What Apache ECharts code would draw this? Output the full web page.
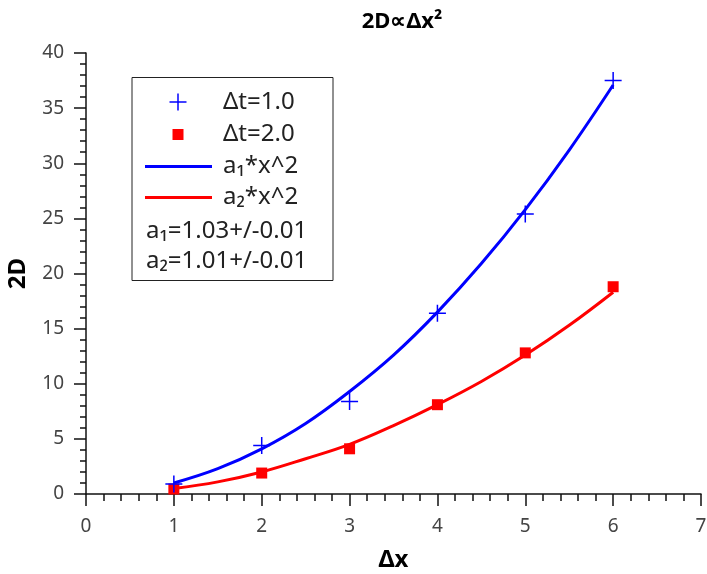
<!DOCTYPE html>
<html>
<head>
<meta charset="utf-8">
<title>2D∝Δx²</title>
<script src="https://cdn.jsdelivr.net/npm/echarts@6/dist/echarts.min.js"></script>
<style>
	html, body { margin: 0; padding: 0; background: #fff; }
	#main { width: 707px; height: 574px; }
</style>
</head>
<body>
<div id="main"></div>
<script>
// measured points
var dx = [1, 2, 3, 4, 5, 6];
var dt1Values = [0.9, 4.4, 8.4, 16.4, 25.4, 37.5];
var dt2Values = [0.45, 1.9, 4.1, 8.1, 12.8, 18.8];

// fitted curves at half steps
var fitX = [1, 1.5, 2, 2.5, 3, 3.5, 4, 4.5, 5, 5.5, 6];
var fit1Values = [1.0, 2.3, 4.1, 6.4, 9.3, 12.6, 16.5, 20.9, 25.8, 31.2, 37.1];
var fit2Values = [0.5, 1.1, 2.0, 3.2, 4.5, 6.2, 8.1, 10.2, 12.6, 15.3, 18.3];

var xTicks = [0, 1, 2, 3, 4, 5, 6, 7];
var yTicks = [0, 5, 10, 15, 20, 25, 30, 35, 40];

var legendNames = ['Δt=1.0', 'Δt=2.0', 'a₁*x^2', 'a₂*x^2'];
var fitNotes = ['a₁=1.03+/-0.01', 'a₂=1.01+/-0.01'];

function pairs(xs, ys) {
	var out = [];
	for (var i = 0; i < xs.length; i++) {
		out.push([xs[i], ys[i]]);
	}
	return out;
}

var FONT = 'Noto Sans';
var BLUE = '#0000ff';
var RED = '#ff0000';
var plusPath = 'path://M0,5L10,5M5,0L5,10';

var legendText = {
	fill: '#222',
	font: '24px "Noto Sans"',
	verticalAlign: 'middle'
};

var option = {
	animation: false,
	backgroundColor: '#fff',
	textStyle: {
		fontFamily: FONT
	},
	title: {
		text: '2D∝Δx²',
		left: 397,
		top: 6,
		textAlign: 'center',
		textStyle: {
			fontFamily: FONT,
			fontSize: 22,
			fontWeight: 'bold',
			color: '#000'
		}
	},
	grid: {
		left: 86,
		right: 6,
		top: 53,
		bottom: 80,
		outerBoundsMode: 'none',
		containLabel: false
	},
	xAxis: {
		type: 'value',
		min: xTicks[0],
		max: xTicks[xTicks.length - 1],
		interval: 1,
		name: 'Δx',
		nameLocation: 'middle',
		nameGap: 54,
		nameTextStyle: {
			fontFamily: FONT,
			fontSize: 24,
			fontWeight: 'bold',
			color: '#000'
		},
		axisLine: {
			onZero: false,
			lineStyle: { color: '#111', width: 1.5 }
		},
		axisTick: {
			length: 12,
			lineStyle: { color: '#111', width: 1.5 }
		},
		minorTick: {
			show: true,
			splitNumber: 5,
			length: 7,
			lineStyle: { color: '#111', width: 1.5 }
		},
		axisLabel: {
			margin: 23,
			fontSize: 19,
			color: '#444'
		},
		splitLine: { show: false }
	},
	yAxis: {
		type: 'value',
		min: yTicks[0],
		max: yTicks[yTicks.length - 1],
		interval: 5,
		name: '2D',
		nameLocation: 'middle',
		nameGap: 56,
		nameTextStyle: {
			fontFamily: FONT,
			fontSize: 24,
			fontWeight: 'bold',
			color: '#000'
		},
		axisLine: {
			show: true,
			onZero: false,
			lineStyle: { color: '#111', width: 1.5 }
		},
		axisTick: {
			show: true,
			length: 12,
			lineStyle: { color: '#111', width: 1.5 }
		},
		minorTick: {
			show: true,
			splitNumber: 5,
			length: 6,
			lineStyle: { color: '#111', width: 1.5 }
		},
		axisLabel: {
			margin: 22,
			fontSize: 19,
			color: '#444'
		},
		splitLine: { show: false }
	},
	series: [
		{
			name: legendNames[2],
			type: 'line',
			data: pairs(fitX, fit1Values),
			smooth: 0.4,
			showSymbol: false,
			lineStyle: { color: BLUE, width: 3 },
			itemStyle: { color: BLUE },
			z: 2
		},
		{
			name: legendNames[3],
			type: 'line',
			data: pairs(fitX, fit2Values),
			smooth: 0.4,
			showSymbol: false,
			lineStyle: { color: RED, width: 3 },
			itemStyle: { color: RED },
			z: 2
		},
		{
			name: legendNames[1],
			type: 'scatter',
			data: pairs(dx, dt2Values),
			symbol: 'rect',
			symbolSize: 11,
			itemStyle: { color: RED, opacity: 1 },
			z: 3
		},
		{
			name: legendNames[0],
			type: 'scatter',
			data: pairs(dx, dt1Values),
			symbol: plusPath,
			symbolSize: 17,
			itemStyle: {
				color: 'rgba(0,0,0,0)',
				borderColor: BLUE,
				borderWidth: 1.5,
				opacity: 1
			},
			z: 4
		}
	],
	graphic: [
		{
			type: 'rect',
			z: 10,
			shape: { x: 132, y: 77.5, width: 201, height: 203 },
			style: { fill: '#fff', stroke: '#222', lineWidth: 1 }
		},
		{
			type: 'line', z: 11,
			shape: { x1: 169.5, y1: 102, x2: 186.5, y2: 102 },
			style: { stroke: BLUE, lineWidth: 1.5 }
		},
		{
			type: 'line', z: 11,
			shape: { x1: 178, y1: 93.5, x2: 178, y2: 110.5 },
			style: { stroke: BLUE, lineWidth: 1.5 }
		},
		{
			type: 'rect', z: 11,
			shape: { x: 172.5, y: 129, width: 11, height: 11 },
			style: { fill: RED }
		},
		{
			type: 'line', z: 11,
			shape: { x1: 145, y1: 166.5, x2: 212, y2: 166.5 },
			style: { stroke: BLUE, lineWidth: 3 }
		},
		{
			type: 'line', z: 11,
			shape: { x1: 145, y1: 197.5, x2: 212, y2: 197.5 },
			style: { stroke: RED, lineWidth: 3 }
		},
		{ type: 'text', z: 11, x: 223, y: 102, style: Object.assign({ text: legendNames[0] }, legendText) },
		{ type: 'text', z: 11, x: 223, y: 134, style: Object.assign({ text: legendNames[1] }, legendText) },
		{ type: 'text', z: 11, x: 223, y: 166, style: Object.assign({ text: legendNames[2] }, legendText) },
		{ type: 'text', z: 11, x: 223, y: 197, style: Object.assign({ text: legendNames[3] }, legendText) },
		{ type: 'text', z: 11, x: 146, y: 231, style: Object.assign({ text: fitNotes[0] }, legendText) },
		{ type: 'text', z: 11, x: 146, y: 261, style: Object.assign({ text: fitNotes[1] }, legendText) }
	]
};

var myChart = echarts.init(document.getElementById('main'));
myChart.setOption(option);
</script>
</body>
</html>
